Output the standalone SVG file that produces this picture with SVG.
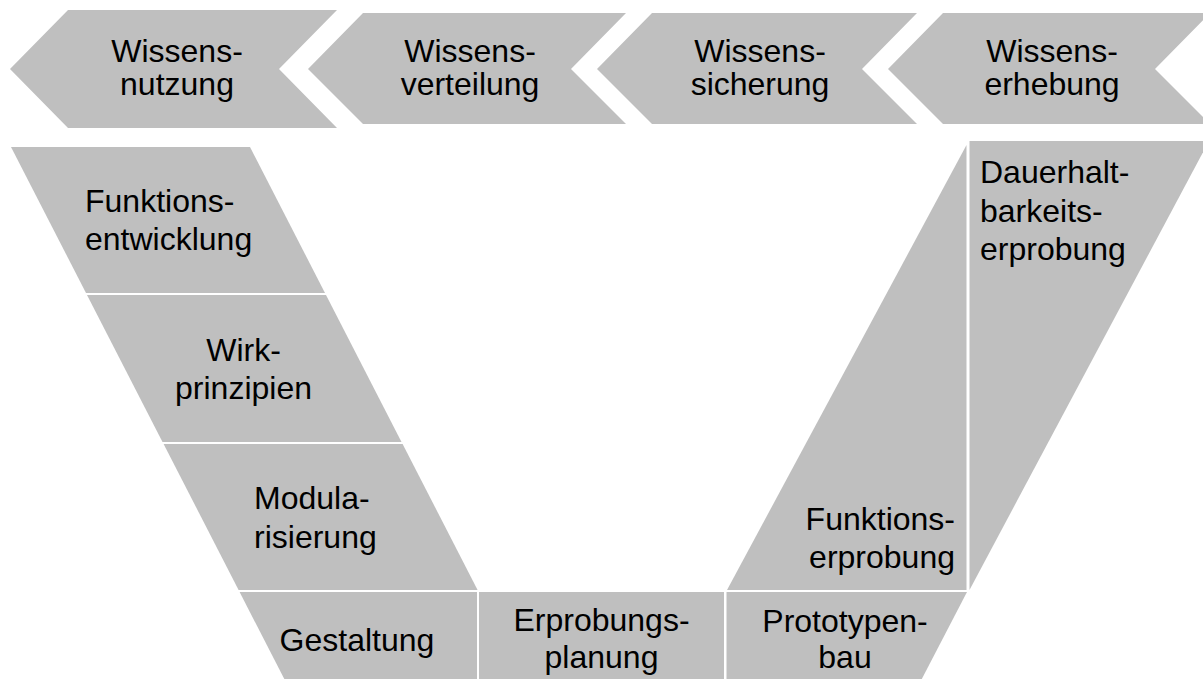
<svg xmlns="http://www.w3.org/2000/svg" width="1203" height="679" viewBox="0 0 1203 679">
<style>
.s{fill:#bfbfbf;stroke:none}
.t{font-family:"Liberation Sans",Arial,sans-serif;font-size:32px;fill:#000}
.c{text-anchor:middle}
.e{text-anchor:end}
</style>
<rect width="1203" height="679" fill="#fff"/>
<g id="chevron-nutzung">
<polygon class="s" points="10,69 68,10 337,10 279,69 337,128 68,128"/>
<text class="t c" x="177" y="62">Wissens-</text>
<text class="t c" x="177" y="95">nutzung</text>
</g>
<g id="chevron-verteilung">
<polygon class="s" points="308,69 363,13 626,13 571,69 626,124 363,124"/>
<text class="t c" x="470" y="62">Wissens-</text>
<text class="t c" x="470" y="95">verteilung</text>
</g>
<g id="chevron-sicherung">
<polygon class="s" points="597,69 652,13 917,13 862,69 917,124 652,124"/>
<text class="t c" x="760" y="62">Wissens-</text>
<text class="t c" x="760" y="95">sicherung</text>
</g>
<g id="chevron-erhebung">
<polygon class="s" points="888,69 943,13 1210,13 1155,69 1210,124 943,124"/>
<text class="t c" x="1052" y="62">Wissens-</text>
<text class="t c" x="1052" y="95">erhebung</text>
</g>
<g id="funktionsentwicklung">
<polygon class="s" points="11,147 250,147 325,293 86,293"/>
<text class="t" x="85" y="212">Funktions-</text>
<text class="t" x="85" y="250">entwicklung</text>
</g>
<g id="wirkprinzipien">
<polygon class="s" points="87,295 326,295 401.5,442 162.5,442"/>
<text class="t c" x="243.5" y="361">Wirk-</text>
<text class="t c" x="243.5" y="399">prinzipien</text>
</g>
<g id="modularisierung">
<polygon class="s" points="163.6,444 402.6,444 477.6,590 238.6,590"/>
<text class="t" x="254" y="509">Modula-</text>
<text class="t" x="254" y="548">risierung</text>
</g>
<g id="gestaltung">
<polygon class="s" points="239.6,592 477,592 477,679 284.3,679"/>
<text class="t c" x="357" y="651">Gestaltung</text>
</g>
<g id="erprobungsplanung">
<rect class="s" x="479" y="592" width="245" height="87"/>
<text class="t c" x="601.5" y="631">Erprobungs-</text>
<text class="t c" x="601.5" y="668">planung</text>
</g>
<g id="prototypenbau">
<polygon class="s" points="726.5,592 967,592 921.8,679 726.5,679"/>
<text class="t c" x="845" y="632">Prototypen-</text>
<text class="t c" x="845" y="668">bau</text>
</g>
<g id="funktionserprobung">
<polygon class="s" points="727,590 966.5,145 966.5,590"/>
<text class="t e" x="955" y="530">Funktions-</text>
<text class="t e" x="955" y="568">erprobung</text>
</g>
<g id="dauerhaltbarkeitserprobung">
<polygon class="s" points="969.5,141 1209,141 969.5,590"/>
<text class="t" x="980" y="183">Dauerhalt-</text>
<text class="t" x="980" y="222">barkeits-</text>
<text class="t" x="980" y="260">erprobung</text>
</g>
<g id="connectors"/>
</svg>
